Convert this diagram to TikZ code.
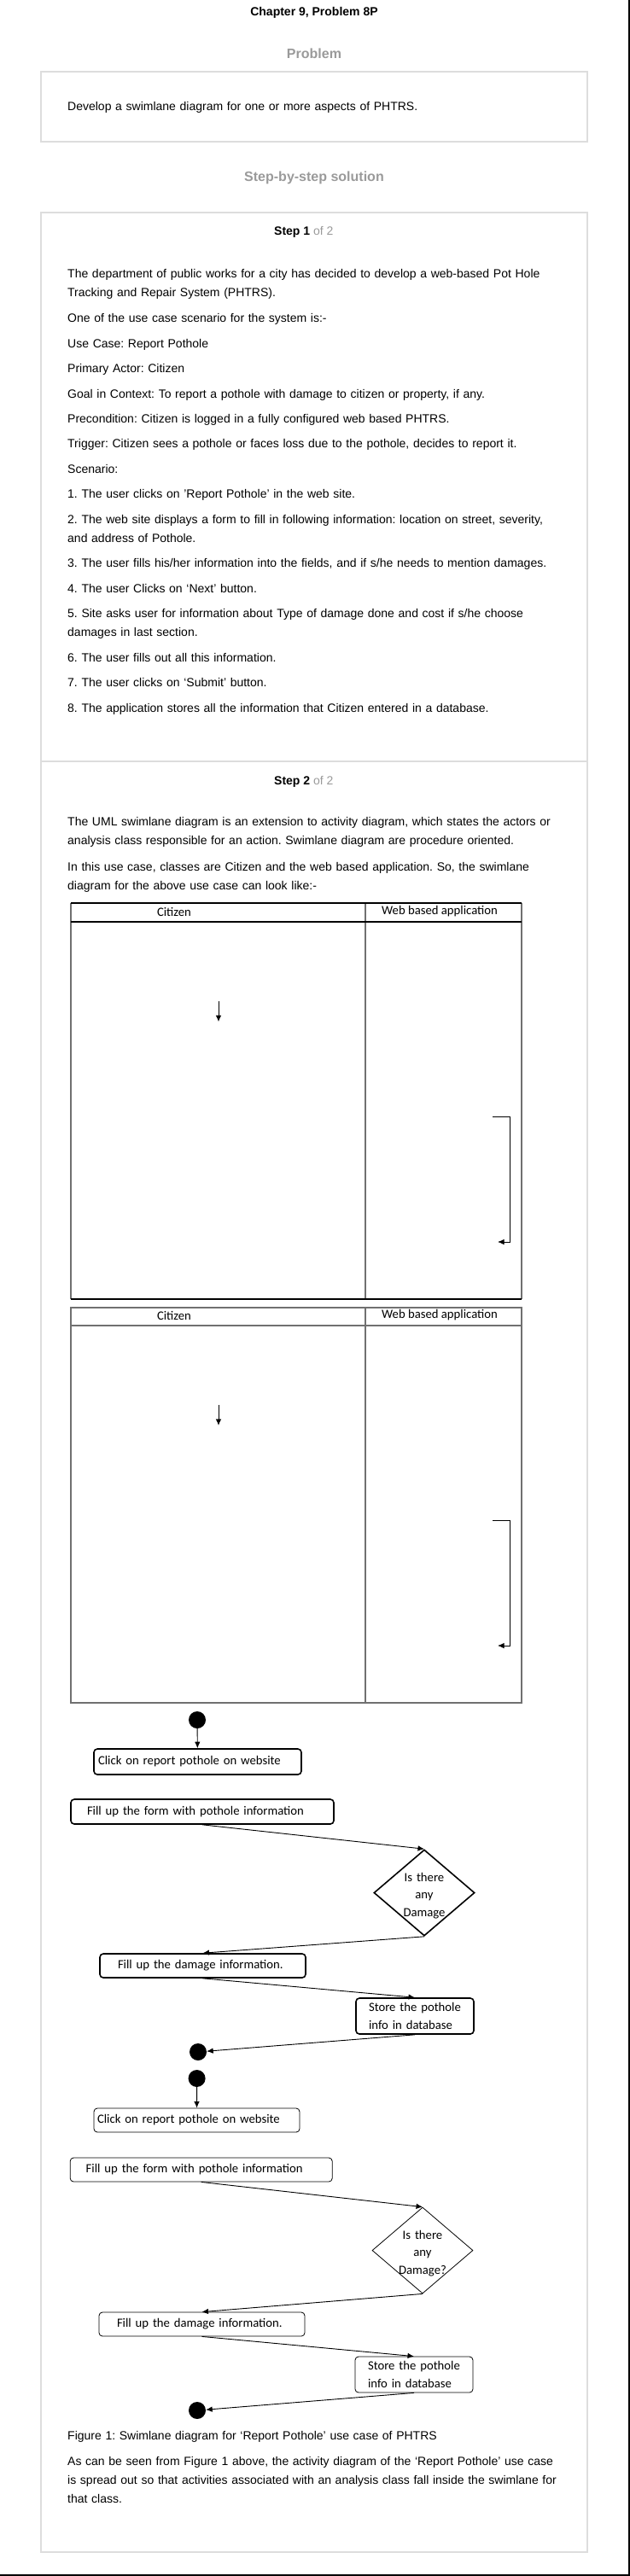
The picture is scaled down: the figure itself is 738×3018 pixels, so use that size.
\documentclass[tikz,border=0pt]{standalone}
\usepackage{fontspec}
\setmainfont{Liberation Sans}
\newfontfamily\calibri{Carlito}
\usetikzlibrary{shapes.geometric,arrows.meta}
\definecolor{headgray}{HTML}{9A9A9A}
\definecolor{framegray}{HTML}{DDDDDD}
\definecolor{lanegray}{HTML}{707070}
\frenchspacing
\begin{document}
\begin{tikzpicture}[x=1pt,y=-1pt,
  txt/.style={anchor=base west,inner sep=0pt,text width=620pt,align=left,font=\fontsize{14}{22}\selectfont},
  head/.style={anchor=base,inner sep=0pt,font=\fontsize{16}{18}\selectfont\bfseries,text=headgray},
  steptitle/.style={anchor=base west,inner sep=0pt,font=\fontsize{14}{16}\selectfont},
  lanehead/.style={inner sep=0pt,font=\calibri\fontsize{14.7}{16}\selectfont},
  act/.style={draw,rounded corners=4pt,line width=1.6pt,inner ysep=0pt,align=left,font=\calibri\fontsize{14.7}{21}\selectfont},
  actthin/.style={act,line width=0.8pt},
  decision/.style={draw,diamond,inner sep=0pt,minimum width=118pt,minimum height=101pt,line width=1.6pt},
  dectext/.style={inner sep=0pt,text width=80pt,align=center,font=\calibri\fontsize{14.7}{20.5}\selectfont},
  blackdot/.style={circle,fill,inner sep=0pt,minimum size=20pt},
  flow/.style={-{Latex[length=7.5pt,width=6.5pt]},line width=0.9pt}
]
\useasboundingbox (0,0) rectangle (738,3018);
\draw[line width=2pt] (737,0) -- (737,3017) -- (0,3017);

% headings and problem box
\node[anchor=base,inner sep=0pt,font=\fontsize{14}{16}\selectfont\bfseries] (title) at (368,19) {Chapter 9, Problem 8P};
\node[head] (probhead) at (368,69) {Problem};
\draw[framegray,line width=1.5pt] (48,84) rectangle (688,166);
\node[txt] (task) at (79,130) {Develop a swimlane diagram for one or more aspects of PHTRS.};
\node[head] (solhead) at (368,213) {Step-by-step solution};
\draw[framegray,line width=1.5pt] (48,249) rectangle (688,2990);
\draw[framegray,line width=1.5pt] (48,892) -- (688,892);

% step 1
\node[steptitle] (step1) at (321,276) {\textbf{Step 1} \textcolor{headgray}{of 2}};
\node[txt] (p1) at (79,326) {The department of public works for a city has decided to develop a web-based Pot Hole\\Tracking and Repair System (PHTRS).};
\node[txt] (p2) at (79,377) {One of the use case scenario for the system is:-};
\node[txt] (p3) at (79,407) {Use Case: Report Pothole};
\node[txt] (p4) at (79,436) {Primary Actor: Citizen};
\node[txt] (p5) at (79,466) {Goal in Context: To report a pothole with damage to citizen or property, if any.};
\node[txt] (p6) at (79,495) {Precondition: Citizen is logged in a fully configured web based PHTRS.};
\node[txt] (p7) at (79,524) {Trigger: Citizen sees a pothole or faces loss due to the pothole, decides to report it.};
\node[txt] (p8) at (79,554) {Scenario:};
\node[txt] (s1) at (79,583) {1. The user clicks on 'Report Pothole' in the web site.};
\node[txt] (s2) at (79,613) {2. The web site displays a form to fill in following information: location on street, severity,\\and address of Pothole.};
\node[txt] (s3) at (79,664) {3. The user fills his/her information into the fields, and if s/he needs to mention damages.};
\node[txt] (s4) at (79,694) {4. The user Clicks on `Next' button.};
\node[txt] (s5) at (79,723) {5. Site asks user for information about Type of damage done and cost if s/he choose\\damages in last section.};
\node[txt] (s6) at (79,775) {6. The user fills out all this information.};
\node[txt] (s7) at (79,804) {7. The user clicks on `Submit' button.};
\node[txt] (s8) at (79,834) {8. The application stores all the information that Citizen entered in a database.};

% step 2
\node[steptitle] (step2) at (321,919) {\textbf{Step 2} \textcolor{headgray}{of 2}};
\node[txt] (q1) at (79,967) {The UML swimlane diagram is an extension to activity diagram, which states the actors or\\analysis class responsible for an action. Swimlane diagram are procedure oriented.};
\node[txt] (q2) at (79,1020) {In this use case, classes are Citizen and the web based application. So, the swimlane\\diagram for the above use case can look like:-};

% swimlane 1
\draw[lanegray,line width=1.2pt] (83,1058) -- (83,1522) (428,1058) -- (428,1522) (611,1058) -- (611,1522);
\draw[line width=1.2pt] (83,1058) -- (611,1058) (83,1080) -- (611,1080) (83,1522) -- (611,1522);
\node[lanehead] (citizen1) at (204,1068) {Citizen};
\node[lanehead] (web1) at (515,1068) {Web based application};
\coordinate (a1) at (256,1173);
\coordinate (b1) at (256,1197);
\draw[flow] (a1) -- (b1);
\coordinate (c1) at (577,1308);
\coordinate (d1) at (583,1455);
\draw[flow] (c1) -- (597,1308) |- (d1);

% swimlane 2
\draw[lanegray,line width=1.2pt] (83,1532) rectangle (611,1995) (83,1553) -- (611,1553) (428,1532) -- (428,1995);
\node[lanehead] (citizen2) at (204,1541) {Citizen};
\node[lanehead] (web2) at (515,1541) {Web based application};
\coordinate (a2) at (256,1646);
\coordinate (b2) at (256,1670);
\draw[flow] (a2) -- (b2);
\coordinate (c2) at (577,1781);
\coordinate (d2) at (583,1928);
\draw[flow] (c2) -- (597,1781) |- (d2);

% activity diagram, bold copy
\node[blackdot] (start1) at (231,2015) {};
\node[act,text width=233pt,inner xsep=5pt,minimum height=30pt] (click1) at (231.5,2064) {Click on report pothole on website};
\node[act,text width=270pt,inner xsep=19pt,minimum height=29pt] (form1) at (237,2122.5) {Fill up the form with pothole information};
\node[decision] (dec1) at (497,2217.5) {};
\node[dectext] (ask1) at (497,2221) {Is there\\any\\Damage};
\node[act,text width=199pt,inner xsep=21pt,minimum height=28pt] (dmg1) at (237.5,2303) {Fill up the damage information.};
\node[act,text width=120pt,inner xsep=9pt,minimum height=42pt] (store1) at (486,2362) {\hspace*{6pt}Store the pothole\\\hspace*{6pt}info in database};
\node[blackdot] (end1) at (232,2404) {};
\draw[flow] (start1) -- (click1);
\draw[flow] (form1.south) -- (dec1.north);
\draw[flow] (dec1.south) -- (dmg1.north);
\draw[flow] (dmg1.south) -- (store1.north);
\draw[flow] (store1.south) -- (end1);

% activity diagram, thin copy
\node[blackdot] (start2) at (230.6,2435) {};
\node[actthin,text width=233pt,inner xsep=4pt,minimum height=28pt] (click2) at (230.5,2484) {Click on report pothole on website};
\node[actthin,text width=270pt,inner xsep=18.5pt,minimum height=28pt] (form2) at (235.7,2542) {Fill up the form with pothole information};
\node[decision,line width=0.8pt] (dec2) at (495,2636.5) {};
\node[dectext] (ask2) at (495,2640) {Is there\\any\\Damage?};
\node[actthin,text width=199pt,inner xsep=21pt,minimum height=28pt] (dmg2) at (236.5,2723) {Fill up the damage information.};
\node[actthin,text width=120pt,inner xsep=9pt,minimum height=42pt] (store2) at (485,2782) {\hspace*{6pt}Store the pothole\\\hspace*{6pt}info in database};
\node[blackdot] (end2) at (231,2824) {};
\draw[flow] (start2) -- (click2);
\draw[flow] (form2.south) -- (dec2.north);
\draw[flow] (dec2.south) -- (dmg2.north);
\draw[flow] (dmg2.south) -- (store2.north);
\draw[flow] (store2.south) -- (end2);

\node[txt] (caption) at (79,2858) {Figure 1: Swimlane diagram for `Report Pothole' use case of PHTRS};
\node[txt] (q3) at (79,2888) {As can be seen from Figure 1 above, the activity diagram of the `Report Pothole' use case\\is spread out so that activities associated with an analysis class fall inside the swimlane for\\that class.};
\end{tikzpicture}
\end{document}
